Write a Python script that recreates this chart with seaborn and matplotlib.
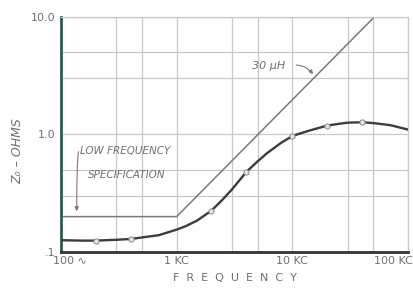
import numpy as np
import pandas as pd
import matplotlib
matplotlib.use("Agg")
import matplotlib.pyplot as plt
import matplotlib.transforms as mtransforms
import seaborn as sns

# ==========================================================
# DATA
# ==========================================================

# measured Z0 curve
freq_hz = [100, 150, 200, 300, 400, 700, 1000, 1200, 1500, 2000, 2500, 3000,
           4000, 5000, 6000, 8000, 10000, 12000, 15000, 20000, 25000, 30000,
           40000, 50000, 70000, 100000]
z0_ohms = [0.126, 0.125, 0.125, 0.127, 0.129, 0.139, 0.155, 0.166, 0.185,
           0.225, 0.28, 0.34, 0.48, 0.59, 0.69, 0.85, 0.97, 1.03, 1.10, 1.19,
           1.23, 1.26, 1.27, 1.25, 1.20, 1.10]

# circle markers on the curve
marker_hz = [200, 400, 2000, 4000, 10000, 20000, 40000]
marker_z0 = [0.125, 0.129, 0.225, 0.48, 0.97, 1.19, 1.27]

# low frequency specification / 30 uH line
spec_hz = [100, 1000, 51000]
spec_z0 = [0.2, 0.2, 10.0]

x_ticks = [100, 1000, 10000, 100000]
x_tick_labels = ["100 \u223f", "1 KC", "10 KC", "100 KC"]
y_ticks = [0.1, 1.0, 10.0]
y_tick_labels = [".1", "1.0", "10.0"]
minor_grid = [3, 5]

# ==========================================================
# STYLE
# ==========================================================

sns.set_style("white")
plt.rcParams["font.family"] = ["DejaVu Sans"]

GRID = "#c8c8c8"
TEXT = "#707070"
CURVE = "#3c3c3c"
SPEC = "#7a7a7a"

fig = plt.figure(figsize=(4.14, 2.92), dpi=100)
ax = fig.add_axes([0.147, 0.137, 0.839, 0.805])

# ==========================================================
# GRID
# ==========================================================

ax.set_xscale("log")
ax.set_yscale("log")
ax.set_xlim(100, 100000)
ax.set_ylim(0.1, 10)

x_minor = [m * d for d in [100, 1000, 10000] for m in minor_grid]
y_minor = [m * d for d in [0.1, 1.0] for m in minor_grid]
for xv in x_minor + x_ticks[1:]:
    ax.axvline(xv, color=GRID, lw=0.9, zorder=0)
for yv in y_minor + y_ticks[1:]:
    ax.axhline(yv, color=GRID, lw=0.9, zorder=0)

# ==========================================================
# LINES
# ==========================================================

spec_df = pd.DataFrame({"f": spec_hz, "z": spec_z0})
curve_df = pd.DataFrame({"f": freq_hz, "z": z0_ohms})
mark_df = pd.DataFrame({"f": marker_hz, "z": marker_z0})

sns.lineplot(data=spec_df, x="f", y="z", ax=ax, color=SPEC, lw=1.1,
             zorder=2)
sns.lineplot(data=curve_df, x="f", y="z", ax=ax, color=CURVE, lw=1.7,
             zorder=3)
sns.scatterplot(data=mark_df, x="f", y="z", ax=ax, s=14, color="#e4e4e0",
                edgecolor="#8a8a8a", linewidth=0.7, zorder=4)

# ==========================================================
# AXES
# ==========================================================

ax.set_xticks(x_ticks)
ax.set_xticklabels(x_tick_labels)
ax.set_xticks([], minor=True)
ax.set_yticks(y_ticks)
ax.set_yticklabels(y_tick_labels)
ax.set_yticks([], minor=True)
ax.tick_params(axis="both", labelsize=8, labelcolor=TEXT, color=CURVE,
               length=3, width=0.8)
ax.tick_params(axis="x", pad=3, length=0)
ax.tick_params(axis="y", pad=1, direction="out")

labels = ax.get_xticklabels()
labels[0].set_ha("left")
labels[0].set_transform(labels[0].get_transform() +
                        mtransforms.ScaledTranslation(-0.08, 0, fig.dpi_scale_trans))
labels[-1].set_ha("right")
labels[-1].set_transform(labels[-1].get_transform() +
                         mtransforms.ScaledTranslation(0.045, 0, fig.dpi_scale_trans))

for side in ["top", "right"]:
    ax.spines[side].set_color(GRID)
    ax.spines[side].set_linewidth(0.9)
ax.spines["left"].set_color("#2e5a52")
ax.spines["left"].set_linewidth(2.0)
ax.spines["bottom"].set_color("#333333")
ax.spines["bottom"].set_linewidth(2.0)

ax.set_xlabel("F  R  E  Q  U  E  N  C  Y", fontsize=8, color=TEXT, labelpad=5)
ax.set_ylabel("Z\u2080 \u2013 OHMS", fontsize=9, color=TEXT, style="italic")
ax.yaxis.set_label_coords(-0.105, 0.43)

# ==========================================================
# ANNOTATIONS
# ==========================================================

ax.text(146, 0.72, "LOW FREQUENCY", fontsize=7.5, style="italic",
        color=TEXT, ha="left", va="center")
ax.text(170, 0.45, "SPECIFICATION", fontsize=7.5, style="italic",
        color=TEXT, ha="left", va="center")
ax.annotate("", xy=(137, 0.21), xytext=(145, 0.75),
            arrowprops=dict(arrowstyle="-|>", color=SPEC, lw=0.8,
                            mutation_scale=6,
                            connectionstyle="angle3,angleA=160,angleB=90"))

ax.text(4500, 3.8, "30 \u03bcH", fontsize=8, style="italic",
        color=TEXT, ha="left", va="center")
ax.annotate("", xy=(15500, 3.1), xytext=(10200, 3.9),
            arrowprops=dict(arrowstyle="-|>", color=SPEC, lw=0.8,
                            mutation_scale=6,
                            connectionstyle="arc3,rad=-0.3"))

fig.savefig("out.png", dpi=100, facecolor="white")
plt.close(fig)
